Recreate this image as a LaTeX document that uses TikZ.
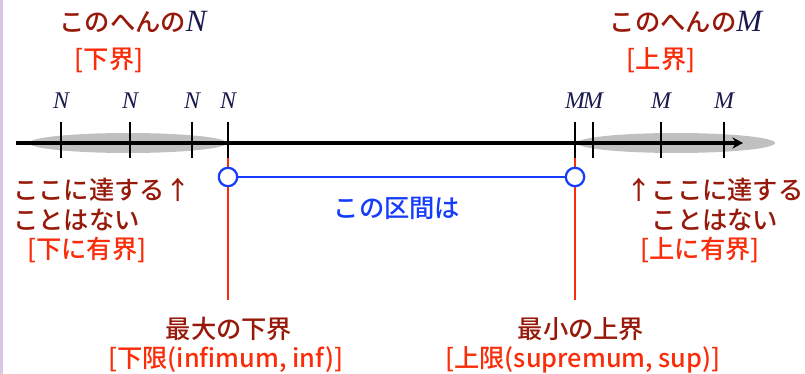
\documentclass[tikz,border=0pt]{standalone}
\usepackage{fontspec}
\IfFontExistsTF{Noto Sans CJK JP Medium}
  {\setmainfont{Noto Sans CJK JP Medium}}
  {\setmainfont{Noto Sans CJK JP}}
\newfontfamily\varfont{Liberation Serif}
\usetikzlibrary{arrows.meta}
\definecolor{maroon}{RGB}{150,25,10}
\definecolor{scarlet}{RGB}{250,45,10}
\definecolor{azure}{RGB}{20,60,250}
\definecolor{navy}{RGB}{25,25,80}
\definecolor{haze}{RGB}{192,192,192}
\definecolor{lilac}{RGB}{215,200,230}
\newcommand{\vN}[1]{{\color{navy}\fontsize{22}{22}\varfont\itshape #1}}
\tikzset{
  >={Stealth[length=7.5pt,width=8pt]},
  jp/.style={inner sep=0pt,font=\fontsize{18}{22}\selectfont},
  headline/.style={jp,text=maroon},
  bracket/.style={jp,text=scarlet},
  span label/.style={jp,text=azure},
  var/.style={inner sep=0pt,text=navy,font=\fontsize{17}{18}\varfont\itshape},
  axis/.style={->,line width=2.2pt,draw=black},
  tickmark/.style={line width=2.1pt,draw=black},
  limit/.style={line width=1.8pt,draw=scarlet},
  span/.style={line width=1.8pt,draw=azure},
  dot/.style={circle,draw=azure,fill=white,line width=1.6pt,minimum size=0.46cm,inner sep=0pt},
  cloud/.style={fill=haze},
}
\begin{document}
\begin{tikzpicture}[x=0.025cm,y=-0.025cm]
  \useasboundingbox (0,0) rectangle (805,374);
  \fill[lilac] (0,0) rectangle (3,374);
  % shaded regions
  \fill[cloud] (128,143) ellipse [x radius=99,y radius=10];
  \fill[cloud] (676,143) ellipse [x radius=99,y radius=10];
  % number line
  \coordinate (start) at (16,143);
  \coordinate (end) at (743,143);
  \draw[axis] (start) -- (end);
  % lower bounds
  \foreach \x in {61,130,192,228} {
    \draw[tickmark] (\x,122) -- (\x,158);
    \node[var] at (\x,101) {N};
  }
  % upper bounds
  \foreach \x in {575,593,661,724} {
    \draw[tickmark] (\x,122) -- (\x,158);
    \node[var] at (\x,101) {M};
  }
  % inf and sup
  \coordinate (infTop) at (228,158);
  \coordinate (infBot) at (228,300);
  \coordinate (supTop) at (575,158);
  \coordinate (supBot) at (575,300);
  \draw[limit] (infTop) -- (infBot);
  \draw[limit] (supTop) -- (supBot);
  \node[dot] (inf) at (228,177) {};
  \node[dot] (sup) at (575,177) {};
  \draw[span] (inf) -- (sup);
  \node[span label] (interval) at (397,208) {この区間は};
  % labels
  \node[headline] (nhead) at (133,22) {このへんの\vN{N}};
  \node[bracket] (nbr) at (109,60) {[下界]};
  \node[headline] (mhead) at (686,22) {このへんの\vN{M}};
  \node[bracket] (mbr) at (661,60) {[上界]};
  \node[headline,anchor=west] (lreach) at (13,190) {ここに達する↑};
  \node[headline,anchor=west] (lnever) at (13,220) {ことはない};
  \node[bracket,anchor=west] (lbound) at (27,250) {[下に有界]};
  \node[headline] (rreach) at (715,190) {↑ここに達する};
  \node[headline] (rnever) at (715,220) {ことはない};
  \node[bracket] (rbound) at (700,250) {[上に有界]};
  \node[headline] (glb) at (229,329) {最大の下界};
  \node[bracket] (infname) at (226,360) {[下限(infimum, inf)]};
  \node[headline] (lub) at (581,329) {最小の上界};
  \node[bracket] (supname) at (583,360) {[上限(supremum, sup)]};
\end{tikzpicture}
\end{document}
